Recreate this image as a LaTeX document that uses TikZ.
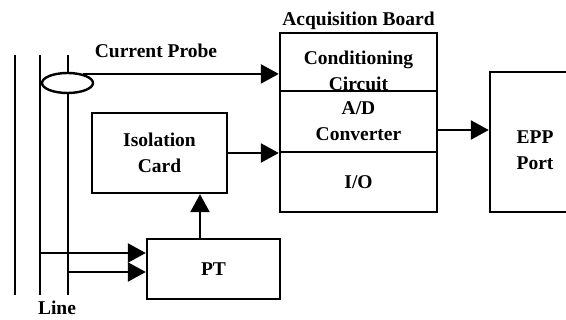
\documentclass[tikz,border=0pt]{standalone}
\usepackage{fontspec}
\setmainfont{Liberation Serif}
\usetikzlibrary{positioning,arrows.meta,shapes.geometric}

\tikzset{
  txt/.style={font=\bfseries\fontsize{19.5}{26}\selectfont, align=center},
  block/.style={draw, rectangle, line width=2.4pt, inner sep=0pt, txt},
  lbl/.style={txt, inner sep=0pt},
  wire/.style={line width=2.4pt},
  sig/.style={line width=2.4pt, -{Triangle[length=18pt,width=19pt]}},
}

\begin{document}
\begin{tikzpicture}[x=1pt,y=-1pt,node distance=2cm,on grid]
\useasboundingbox (0,0) rectangle (566,320);
\clip (0,0) rectangle (566,320);
% the line
\coordinate (l1t) at (15,55);  \coordinate (l1b) at (15,295);
\coordinate (l2t) at (40,55);  \coordinate (l2b) at (40,295);
\coordinate (l3t) at (68,55);  \coordinate (l3b) at (68,295);
\draw[wire] (l1t) -- (l1b) (l2t) -- (l2b) (l3t) -- (l3b);
\node[lbl] (line) at (57,308) {Line};
\node[draw, ellipse, fill=white, line width=2.4pt, inner sep=0pt,
      minimum width=51pt, minimum height=20pt] (probe) at (67.5,83) {};
\node[lbl] (cplbl) at (156,51) {Current Probe};

% boards
\node[block, minimum width=157pt, minimum height=58pt,
      label={[lbl,yshift=-9pt]center:Conditioning\\Circuit},
      label={[lbl,inner sep=2pt]above:Acquisition Board}] (cond) at (358.5,62) {};
\node[block, minimum width=157pt, minimum height=61pt] (ad) [below=59.5pt of cond] {A/D\\Converter};
\node[block, minimum width=157pt, minimum height=60pt] (io) [below=60.5pt of ad] {I/O};
\node[block, minimum width=135pt, minimum height=80pt] (iso) at (159.5,153) {Isolation\\Card};
\node[block, minimum width=133pt, minimum height=60pt] (pt) [below right=116pt and 54pt of iso] {PT};
\node[block, minimum width=90pt, minimum height=140pt,
      label={[lbl,yshift=-8pt]center:EPP\\Port}] (epp) [below right=20.5pt and 176.5pt of ad] {};

% signals
\draw[sig] (probe.30) -- (probe.30 -| cond.west);
\draw[sig] (iso.east) -- (iso.east -| ad.west);
\draw[sig] ([xshift=-13.5pt]pt.north) -- ([xshift=-13.5pt]pt.north |- iso.south);
\draw[sig] ([yshift=-8.5pt]ad.east) -- ([yshift=-8.5pt]ad.east -| epp.west);
\draw[sig] ([yshift=16pt]pt.west -| l2t) -- ([yshift=16pt]pt.west);
\draw[sig] ([yshift=-3pt]pt.west -| l3t) -- ([yshift=-3pt]pt.west);
\end{tikzpicture}
\end{document}
